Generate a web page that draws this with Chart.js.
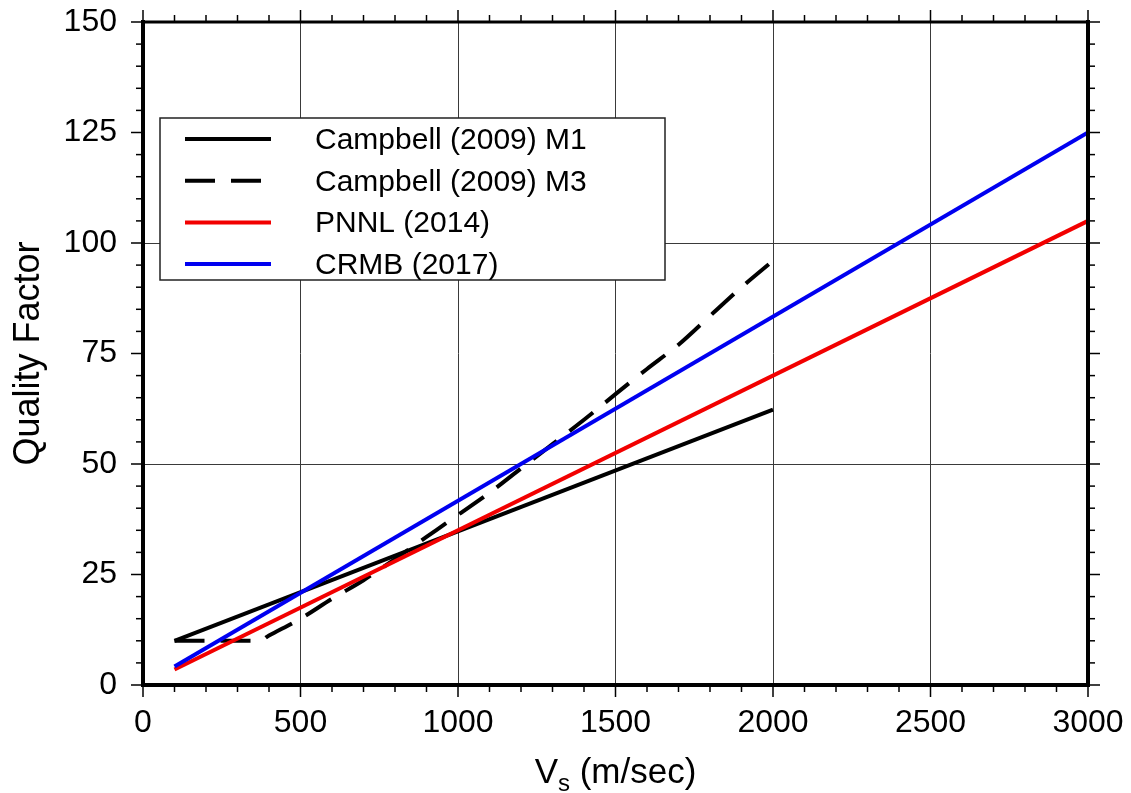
<!DOCTYPE html>
<html>
<head>
<meta charset="utf-8">
<script src="https://cdn.jsdelivr.net/npm/chart.js@4.4.1/dist/chart.umd.min.js"></script>
<style>
  html, body { margin: 0; padding: 0; background: #fff; }
  canvas { display: block; }
</style>
</head>
<body>
<canvas id="qChart" width="1131" height="793"></canvas>
<script>
// values (Vs in m/sec, Q dimensionless)
const vsM1 = [100, 2000];
const qM1 = [10, 62.3];

const vsM3 = [100, 200, 300, 370, 400, 500, 600, 700, 800, 900, 1000, 1100, 1200, 1300, 1400, 1500, 1600, 1700, 1800, 1900, 2000];
const qM3 = [10, 10, 10, 10, 11.2, 15, 19.5, 23.7, 28.5, 33.5, 38.5, 43.5, 49, 54.5, 60, 65.8, 71.5, 77, 83.5, 90, 96];

const vsPnnl = [100, 3000];
const qPnnl = [3.5, 105];

const vsCrmb = [100, 3000];
const qCrmb = [4.2, 125];

const xTicks = [0, 500, 1000, 1500, 2000, 2500, 3000];
const yTicks = [0, 25, 50, 75, 100, 125, 150];
const xMinorStep = 100;
const yMinorStep = 5;

const seriesNames = ['Campbell (2009) M1', 'Campbell (2009) M3', 'PNNL (2014)', 'CRMB (2017)'];

const FONT = '"Liberation Sans", Arial, Helvetica, sans-serif';

const toPoints = (xs, ys) => xs.map((x, i) => ({ x: x, y: ys[i] }));

// frame, outside ticks (major + minor on all four sides), legend box, axis titles
const decorations = {
  id: 'decorations',
  afterDatasetsDraw(chart) {
    const ctx = chart.ctx;
    const a = chart.chartArea;
    const xs = chart.scales.x;
    const ys = chart.scales.y;

    // legend
    const lx = 160, ly = 118, lw = 505, lh = 162;
    ctx.save();
    ctx.fillStyle = '#fff';
    ctx.fillRect(lx, ly, lw, lh);
    ctx.strokeStyle = '#222';
    ctx.lineWidth = 1.5;
    ctx.strokeRect(lx, ly, lw, lh);
    ctx.font = '30px ' + FONT;
    ctx.textBaseline = 'alphabetic';
    ctx.textAlign = 'left';
    chart.data.datasets.forEach((ds, i) => {
      const rowY = 139 + i * 41.7;
      ctx.beginPath();
      ctx.strokeStyle = ds.borderColor;
      ctx.lineWidth = ds.borderWidth;
      ctx.lineCap = 'butt';
      ctx.setLineDash(ds.borderDash || []);
      ctx.moveTo(185, rowY);
      ctx.lineTo(271, rowY);
      ctx.stroke();
      ctx.setLineDash([]);
      ctx.fillStyle = '#000';
      ctx.fillText(ds.label, 315, rowY + 10);
    });
    ctx.restore();

    // ticks
    ctx.save();
    ctx.strokeStyle = '#000';
    ctx.lineWidth = 1.5;
    const seg = (x1, y1, x2, y2) => {
      ctx.beginPath();
      ctx.moveTo(x1, y1);
      ctx.lineTo(x2, y2);
      ctx.stroke();
    };
    for (let v = xs.min; v <= xs.max; v += xMinorStep) {
      const px = xs.getPixelForValue(v);
      const len = xTicks.includes(v) ? 12 : 7;
      seg(px, a.bottom, px, a.bottom + len);
      seg(px, a.top, px, a.top - len);
    }
    for (let v = ys.min; v <= ys.max; v += yMinorStep) {
      const py = ys.getPixelForValue(v);
      const len = yTicks.includes(v) ? 12 : 7;
      seg(a.left, py, a.left - len, py);
      seg(a.right, py, a.right + len, py);
    }
    // frame
    ctx.lineCap = 'square';
    ctx.lineWidth = 4;
    seg(a.left, a.bottom, a.right, a.bottom);
    seg(a.left, a.top, a.left, a.bottom);
    seg(a.right, a.top, a.right, a.bottom);
    ctx.lineWidth = 3;
    seg(a.left, a.top, a.right, a.top);
    ctx.restore();

    // axis titles
    ctx.save();
    ctx.fillStyle = '#000';
    ctx.textBaseline = 'alphabetic';
    ctx.textAlign = 'left';
    const bigFont = '35px ' + FONT;
    const subFont = '24px ' + FONT;
    ctx.font = bigFont;
    const wV = ctx.measureText('V').width;
    const wRest = ctx.measureText(' (m/sec)').width;
    ctx.font = subFont;
    const wS = ctx.measureText('s').width;
    const cx = (a.left + a.right) / 2;
    let tx = cx - (wV + wS + wRest) / 2;
    const base = 783;
    ctx.font = bigFont;
    ctx.fillText('V', tx, base);
    ctx.font = subFont;
    ctx.fillText('s', tx + wV, base + 8);
    ctx.font = bigFont;
    ctx.fillText(' (m/sec)', tx + wV + wS, base);

    ctx.translate(39, (a.top + a.bottom) / 2);
    ctx.rotate(-Math.PI / 2);
    ctx.textAlign = 'center';
    ctx.font = '36px ' + FONT;
    ctx.fillText('Quality Factor', 0, 0);
    ctx.restore();
  }
};

const ctx = document.getElementById('qChart').getContext('2d');

const qChart = new Chart(ctx, {
  type: 'line',
  data: {
    datasets: [{
      label: seriesNames[0],
      data: toPoints(vsM1, qM1),
      borderColor: '#000000',
      borderWidth: 4,
      order: 3
    }, {
      label: seriesNames[1],
      data: toPoints(vsM3, qM3),
      borderColor: '#000000',
      borderWidth: 4,
      borderDash: [30, 16],
      cubicInterpolationMode: 'monotone',
      order: 2
    }, {
      label: seriesNames[2],
      data: toPoints(vsPnnl, qPnnl),
      borderColor: '#f20000',
      borderWidth: 4,
      order: 1
    }, {
      label: seriesNames[3],
      data: toPoints(vsCrmb, qCrmb),
      borderColor: '#0000f0',
      borderWidth: 4,
      order: 0
    }]
  },
  options: {
    responsive: false,
    animation: false,
    devicePixelRatio: 1,
    layout: { padding: { left: 0, top: 22, right: 43, bottom: 0 } },
    elements: {
      point: { radius: 0, hoverRadius: 0 },
      line: { fill: false, borderCapStyle: 'butt', tension: 0 }
    },
    plugins: {
      legend: { display: false },
      tooltip: { enabled: false }
    },
    scales: {
      x: {
        type: 'linear',
        min: 0,
        max: 3000,
        afterBuildTicks: (scale) => { scale.ticks = xTicks.map(v => ({ value: v })); },
        afterFit: (scale) => {
          scale.height = 108;
          scale.paddingLeft = 0;
          scale.paddingRight = 0;
        },
        border: { display: false },
        grid: { color: '#3a3a3a', lineWidth: 1, drawTicks: false },
        ticks: {
          color: '#000',
          font: { family: FONT, size: 32 },
          padding: 19,
          maxRotation: 0,
          autoSkip: false,
          callback: (v) => String(v)
        }
      },
      y: {
        type: 'linear',
        min: 0,
        max: 150,
        afterBuildTicks: (scale) => { scale.ticks = yTicks.map(v => ({ value: v })); },
        afterFit: (scale) => {
          scale.width = 143;
          scale.paddingTop = 0;
          scale.paddingBottom = 0;
        },
        border: { display: false },
        grid: {
          color: (c) => (c.tick && c.tick.value % 50 === 0) ? '#3a3a3a' : 'rgba(0,0,0,0)',
          lineWidth: 1,
          drawTicks: false
        },
        ticks: {
          color: '#000',
          font: { family: FONT, size: 32 },
          padding: 26,
          autoSkip: false,
          callback: (v) => String(v)
        }
      }
    }
  },
  plugins: [decorations]
});
</script>
</body>
</html>
